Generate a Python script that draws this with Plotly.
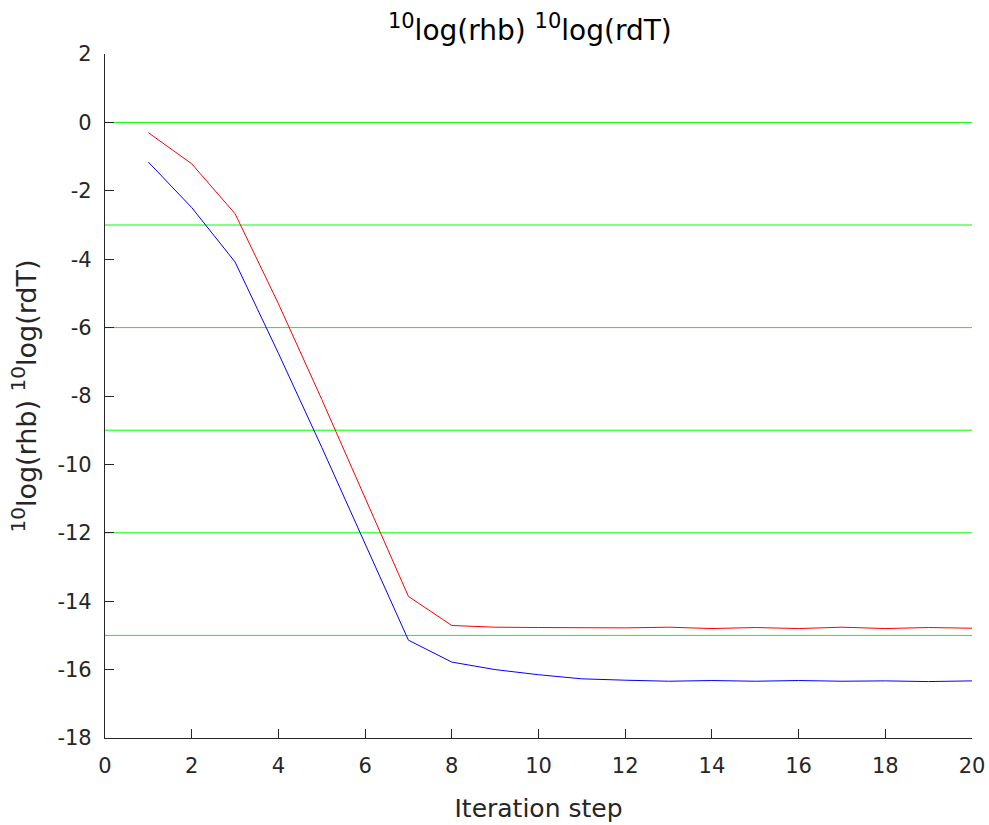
import plotly.graph_objects as go

steps = list(range(1, 21))
rhb = [-0.30, -1.21, -2.67, -5.30, -8.10, -11.00, -13.86, -14.71, -14.76, -14.77,
       -14.78, -14.78, -14.76, -14.80, -14.77, -14.80, -14.76, -14.80, -14.77, -14.79]
rdT = [-1.16, -2.49, -4.08, -6.75, -9.50, -12.30, -15.14, -15.78, -16.00, -16.15,
       -16.27, -16.31, -16.34, -16.32, -16.34, -16.32, -16.34, -16.33, -16.35, -16.33]
ref_levels = [0, -3, -6, -9, -12, -15]
x_span = [0, 20]
x_ticks = list(range(0, 21, 2))
y_ticks = list(range(-18, 3, 2))
y_ticktext = [str(v) for v in y_ticks]

FONT = "DejaVu Sans, Liberation Sans, Arial, sans-serif"


def log_label(sup_px):
    s = f'<sup><span style="font-size:{sup_px}px">10</span></sup>'
    return f"{s}log(rhb) {s}log(rdT)"


fig = go.Figure()
for lv in ref_levels:
    fig.add_trace(go.Scatter(x=x_span, y=[lv, lv], mode="lines",
                             line=dict(color="#00ff00", width=1), showlegend=False,
                             hoverinfo="skip"))
fig.add_trace(go.Scatter(x=steps, y=rhb, mode="lines",
                         line=dict(color="#ff0000", width=1), showlegend=False))
fig.add_trace(go.Scatter(x=steps, y=rdT, mode="lines",
                         line=dict(color="#0000ff", width=1), showlegend=False))

axis_common = dict(showline=True, linecolor="#262626", linewidth=1.2,
                   ticks="inside", ticklen=9, tickwidth=1.2, tickcolor="#262626",
                   showgrid=False, zeroline=False, automargin=False,
                   tickfont=dict(family=FONT, size=21, color="#262626"))

W, H = 989, 825
fig.update_layout(
    width=W, height=H,
    margin=dict(l=105, r=17, t=54, b=87, autoexpand=False),
    paper_bgcolor="white", plot_bgcolor="white",
    title=dict(text=log_label(21), xref="paper", x=0.49, xanchor="center",
               yref="container", y=1 - 30 / H, yanchor="middle",
               font=dict(family=FONT, size=28, color="#000000")),
    xaxis=dict(range=[0, 20], tickvals=x_ticks, ticklabelstandoff=9,
               title=dict(text="Iteration step", standoff=22,
                          font=dict(family=FONT, size=25, color="#262626")),
               **axis_common),
    yaxis=dict(range=[-18, 2], tickvals=y_ticks, ticktext=y_ticktext,
               ticklabelstandoff=8,
               title=dict(text=log_label(20), standoff=12,
                          font=dict(family=FONT, size=27, color="#262626")),
               **axis_common),
)

page_fix = ("document.body.style.margin='0';"
            "document.body.style.overflow='hidden';"
            "document.documentElement.style.overflow='hidden';")
fig.write_html("out.html", post_script=page_fix,
               config={"displayModeBar": False})
